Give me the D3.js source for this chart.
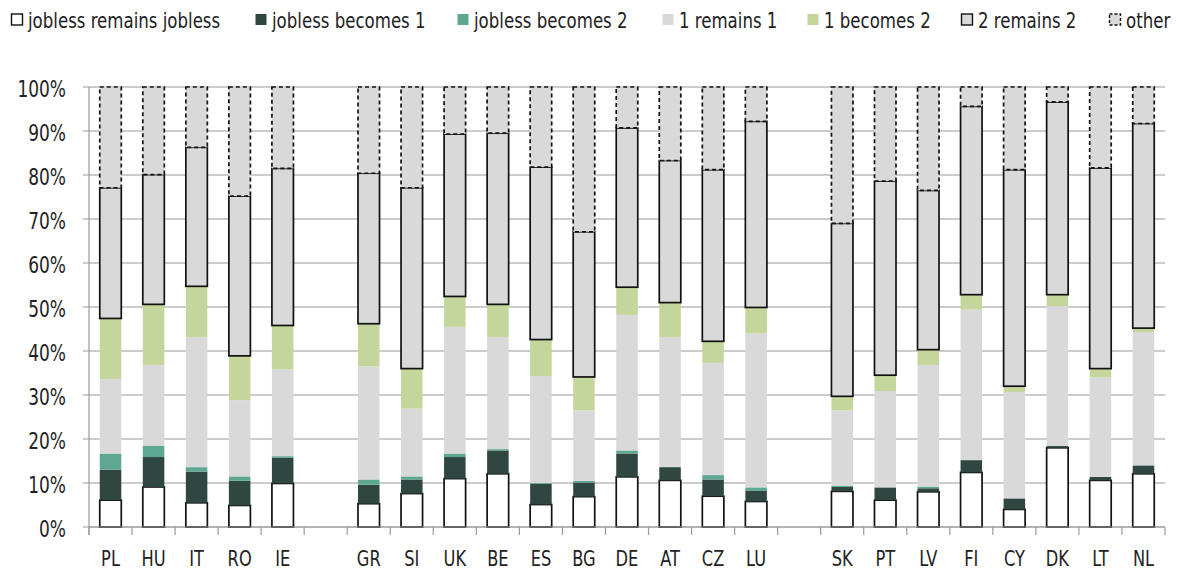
<!DOCTYPE html>
<html><head><meta charset="utf-8">
<script src="https://cdn.jsdelivr.net/npm/d3@7"></script>
<style>
body{margin:0;background:#fff;}
text{font-family:"DejaVu Sans Condensed","Liberation Sans Narrow",sans-serif;fill:#222;}
</style></head><body>
<svg id="c" width="1178" height="574"></svg>
<script>
const categories = ["PL","HU","IT","RO","IE","","GR","SI","UK","BE","ES","BG","DE","AT","CZ","LU"," ","SK","PT","LV","FI","CY","DK","LT","NL"];
const seriesNames = ["jobless remains jobless","jobless becomes 1","jobless becomes 2","1 remains 1","1 becomes 2","2 remains 2","other"];
const joblessRemains = [6.1,9.1,5.5,4.9,9.9,0,5.3,7.6,11.0,12.1,5.1,6.9,11.4,10.6,7.0,5.8,0,8.1,6.1,8.0,12.4,4.0,18.0,10.6,12.1];
const joblessBecomes1 = [6.9,6.8,7.1,5.6,5.8,0,4.3,3.2,4.9,5.3,4.7,3.2,5.3,3.0,3.8,2.4,0,1.0,2.9,0.8,2.8,2.5,0.4,0.8,1.9];
const joblessBecomes2 = [3.7,2.6,1.0,1.0,0.4,0,1.2,0.7,0.8,0.3,0.2,0.4,0.7,0.1,1.0,0.8,0,0.3,0,0.4,0,0,0,0,0];
const oneRemains1 = [16.9,18.3,29.6,17.3,19.7,0,25.7,15.4,28.8,25.5,24.3,16.0,30.8,29.5,25.5,35.0,0,17.1,21.9,27.6,34.2,24.2,31.8,22.6,30.3];
const oneBecomes2 = [13.8,13.8,11.5,10.1,10.0,0,9.7,9.1,6.9,7.4,8.3,7.6,6.3,7.8,4.9,5.9,0,3.2,3.6,3.5,3.4,1.3,2.6,2.0,0.9];
const twoRemains2 = [29.7,29.5,31.6,36.3,35.7,0,34.2,41.1,36.9,38.9,39.2,33.0,36.2,32.3,39.0,42.3,0,39.3,44.1,36.2,42.8,49.2,43.8,45.6,46.5];
const other = [22.9,19.9,13.7,24.8,18.5,0,19.6,22.9,10.7,10.5,18.2,32.9,9.3,16.7,18.8,7.8,0,31.0,21.4,23.5,4.4,18.8,3.4,18.4,8.3];
const yTicks = [0,10,20,30,40,50,60,70,80,90,100];

const cols = [joblessRemains,joblessBecomes1,joblessBecomes2,oneRemains1,oneBecomes2,twoRemains2,other];
const rows = categories.map((c,i)=>{const o={cat:c}; seriesNames.forEach((s,k)=>o[s]=cols[k][i]); return o;});

const styles = [
  {fill:"#ffffff",stroke:"#111",dash:null},
  {fill:"#2f4641",stroke:null,dash:null},
  {fill:"#5ea891",stroke:null,dash:null},
  {fill:"#d9d9d9",stroke:null,dash:null},
  {fill:"#c4d69b",stroke:null,dash:null},
  {fill:"#d9d9d9",stroke:"#111",dash:null},
  {fill:"#d9d9d9",stroke:"#111",dash:"4,3"}
];

const svg = d3.select("#c");
const pL=89, pR=1165, pT=87, pB=527;
const x = d3.scaleBand().domain(categories).range([pL,pR]).paddingInner(0.5).paddingOuter(0.25);
const xb = d3.scaleBand().domain(categories).range([pL,pR]);
const y = d3.scaleLinear().domain([0,100]).range([pB,pT]);

svg.append("g").selectAll("line").data(yTicks).join("line")
  .attr("x1",pL-6).attr("x2",pR).attr("y1",d=>y(d)).attr("y2",d=>y(d))
  .attr("stroke","#9a9a9a").attr("stroke-width",1.2);
svg.append("g").selectAll("text").data(yTicks).join("text")
  .attr("transform",d=>`translate(66,${y(d)+9.5}) scale(0.84,1)`)
  .attr("text-anchor","end").attr("font-size",22.5).text(d=>d+"%");
svg.append("line").attr("x1",pL).attr("x2",pL).attr("y1",pT).attr("y2",pB+8).attr("stroke","#9a9a9a").attr("stroke-width",1.2);
const bounds = categories.map(c=>xb(c)).concat([pR]);
svg.append("g").selectAll("line").data(bounds).join("line")
  .attr("x1",d=>d).attr("x2",d=>d).attr("y1",pB).attr("y2",pB+8)
  .attr("stroke","#9a9a9a").attr("stroke-width",1.2);

const stack = d3.stack().keys(seriesNames)(rows);
stack.forEach((layer,k)=>{
  const st=styles[k];
  svg.append("g").selectAll("rect").data(layer.filter(d=>d.data.cat.trim()!=="" && (d[1]-d[0])>0)).join("rect")
    .attr("x",d=>x(d.data.cat)).attr("width",x.bandwidth())
    .attr("y",d=>y(d[1])).attr("height",d=>y(d[0])-y(d[1]))
    .attr("fill",st.fill)
    .attr("stroke",st.stroke||"none").attr("stroke-width",st.stroke?1.7:0)
    .attr("stroke-dasharray",st.dash);
});
svg.append("line").attr("x1",pL).attr("x2",pR).attr("y1",pB).attr("y2",pB).attr("stroke","#9a9a9a").attr("stroke-width",1.2);

svg.append("g").selectAll("text").data(categories.filter(c=>c.trim()!=="")).join("text")
  .attr("transform",d=>`translate(${xb(d)+xb.bandwidth()/2},565.5) scale(0.84,1)`)
  .attr("text-anchor","middle").attr("font-size",21.5).text(d=>d);

const legBox = [11,255,457,662,807,961,1109];
const lg = svg.append("g");
seriesNames.forEach((s,k)=>{
  const st=styles[k];
  lg.append("rect").attr("x",legBox[k]+0.5).attr("y",14).attr("width",11).attr("height",11)
    .attr("fill",st.fill).attr("stroke",st.stroke||"none").attr("stroke-width",st.stroke?1.4:0)
    .attr("stroke-dasharray",st.dash?"3,2":null);
  lg.append("text").attr("transform",`translate(${legBox[k]+17},28.3) scale(0.9,1)`)
    .attr("font-size",20.5).text(s);
});
</script></body></html>
